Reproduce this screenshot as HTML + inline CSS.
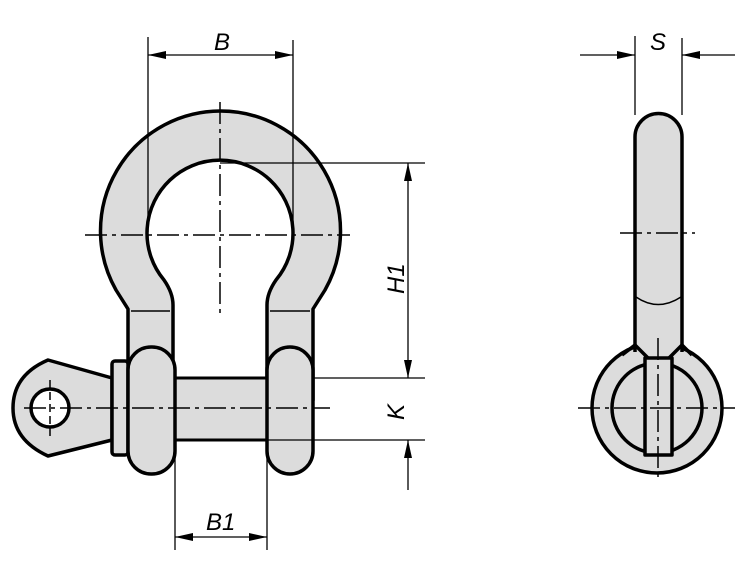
<!DOCTYPE html>
<html><head><meta charset="utf-8"><style>
html,body{margin:0;padding:0;background:#fff;}
svg{display:block;}
text{font-family:"Liberation Sans",sans-serif;font-style:italic;font-size:24px;fill:#000;}
</style></head><body>
<svg width="750" height="565" viewBox="0 0 750 565" xmlns="http://www.w3.org/2000/svg">
<defs>
<marker id="a" markerWidth="20" markerHeight="10" refX="18" refY="4" orient="auto" markerUnits="userSpaceOnUse"><path d="M0,0 L18,4 L0,8 Z" fill="#000"/></marker>
</defs>
<g stroke="#000" stroke-width="3.5" fill="#dcdcdc" stroke-linejoin="round">
<!-- bow -->
<path d="M128,400 L128,309 L116,290 A120,120 0 1 1 325,290 L313,309 L313,400 L267,400 L267,305 Q267,293 276,280 A73,73 0 1 0 164,280 Q173,293 173,305 L173,400 Z"/>
<!-- eye tab -->
<path d="M112,378 L48,360 Q13,375 13,408 Q13,440 48,456 L112,440 Z"/>
<circle cx="50" cy="408" r="19" fill="#fff"/>
<rect x="112" y="361" width="16" height="94" rx="3"/>
<!-- pin -->
<rect x="175" y="378" width="92" height="62" stroke-width="3"/>
<!-- bosses -->
<rect x="128" y="347" width="47" height="127" rx="23"/>
<rect x="267" y="347" width="46" height="127" rx="23"/>
<!-- right view -->
<circle cx="657" cy="408" r="65"/>
<path d="M635,352 L635,137 A23.5,23.5 0 0 1 682,137 L682,352 L667,360 L650,360 Z" stroke="none"/>
<path d="M635,352 L635,137 A23.5,23.5 0 0 1 682,137 L682,352" fill="none"/>
<circle cx="657" cy="408" r="45" fill="#dcdcdc"/>
<path d="M622,355 L635,345 L650,360 M692,355 L682,345 L667,360" fill="none"/>
<rect x="645" y="358" width="27" height="97"/>
</g>
<g stroke="#000" stroke-width="1.5" fill="none">
<line x1="131" y1="311" x2="170" y2="311"/>
<line x1="270" y1="311" x2="310" y2="311"/>
<path d="M636,297 Q658,312 681,297"/>
</g>
<!-- centerlines -->
<g stroke="#000" stroke-width="1.5" stroke-dasharray="22,5,4,5" fill="none">
<line x1="85" y1="235" x2="350" y2="235"/>
<line x1="220" y1="102" x2="220" y2="318"/>
<line x1="24" y1="408" x2="330" y2="408"/>
<line x1="50" y1="380" x2="50" y2="436" stroke-dasharray="8,4"/>
<line x1="578" y1="408" x2="735" y2="408"/>
<line x1="620" y1="233" x2="695" y2="233"/>
<line x1="658" y1="338" x2="658" y2="478"/>
</g>
<!-- dimension lines -->
<g stroke="#000" stroke-width="1.3" fill="none">
<line x1="148" y1="37" x2="148" y2="232"/>
<line x1="293" y1="40" x2="293" y2="232"/>
<line x1="220" y1="55" x2="148" y2="55" marker-end="url(#a)"/>
<line x1="220" y1="55" x2="293" y2="55" marker-end="url(#a)"/>
<line x1="220" y1="163" x2="425" y2="163"/>
<line x1="313" y1="378" x2="425" y2="378"/>
<line x1="267" y1="440" x2="425" y2="440"/>
<line x1="408" y1="270" x2="408" y2="163" marker-end="url(#a)"/>
<line x1="408" y1="270" x2="408" y2="378" marker-end="url(#a)"/>
<line x1="408" y1="490" x2="408" y2="440" marker-end="url(#a)"/>
<line x1="175" y1="440" x2="175" y2="550"/>
<line x1="267" y1="440" x2="267" y2="550"/>
<line x1="221" y1="537" x2="175" y2="537" marker-end="url(#a)"/>
<line x1="221" y1="537" x2="267" y2="537" marker-end="url(#a)"/>
<line x1="635" y1="36" x2="635" y2="115"/>
<line x1="682" y1="38" x2="682" y2="115"/>
<line x1="580" y1="55" x2="635" y2="55" marker-end="url(#a)"/>
<line x1="735" y1="55" x2="682" y2="55" marker-end="url(#a)"/>
</g>
<text x="214" y="50">B</text>
<text x="650" y="50">S</text>
<text x="206" y="530">B1</text>
<text transform="translate(404,294) rotate(-90)">H1</text>
<text transform="translate(404,420) rotate(-90)">K</text>
</svg>
</body></html>
